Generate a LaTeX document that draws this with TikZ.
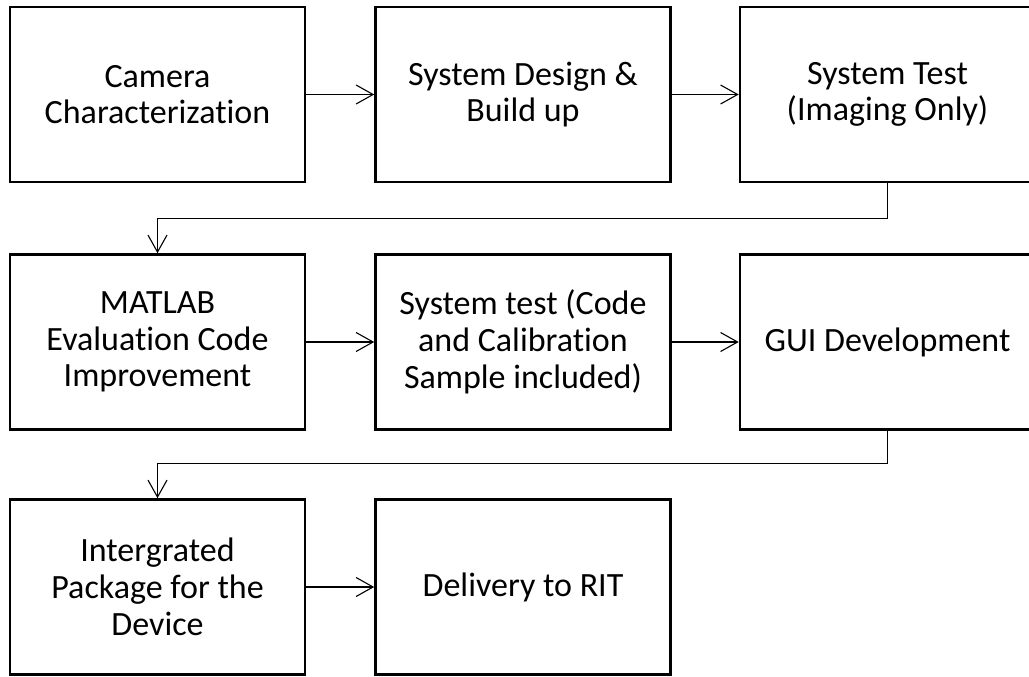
\documentclass[tikz,border=0pt]{standalone}
\usepackage{fontspec}
\setmainfont{Carlito}[Ligatures={NoCommon}]
\usetikzlibrary{arrows.meta}
\begin{document}
\begin{tikzpicture}[x=1pt,y=-1pt,
  box/.style={draw=black,line width=2.6pt,minimum width=295pt,minimum height=175pt,
    inner sep=0pt,align=center,font=\fontsize{34}{36.7}\selectfont},
  arr/.style={draw=black,line width=1.1pt,-{Straight Barb[length=17pt,width=19pt,line width=1.1pt]}}]
\useasboundingbox (0,0) rectangle (1029,677);
\node[box] (b1) at (157.5,94.5) {Camera\\Characterization};
\node[box] (b2) at (523,94.5) {System Design \&\\Build up};
\node[box] (b3) at (887.5,94.5) {System Test\\(Imaging Only)};
\node[box] (b4) at (157.5,342) {MATLAB\\Evaluation Code\\Improvement};
\node[box] (b5) at (523,342) {System test (Code\\and Calibration\\Sample included)};
\node[box] (b6) at (887.5,342) {GUI Development};
\node[box] (b7) at (157.5,587) {Intergrated\\Package for the\\Device};
\node[box] (b8) at (523,587) {Delivery to RIT};
\draw[arr] (b1.east) -- (b2.west);
\draw[arr] (b2.east) -- (b3.west);
\draw[arr] (b3.south) -- ++(0,35) -| (b4.north);
\draw[arr] (b4.east) -- (b5.west);
\draw[arr] (b5.east) -- (b6.west);
\draw[arr] (b6.south) -- ++(0,33) -| (b7.north);
\draw[arr] (b7.east) -- (b8.west);
\end{tikzpicture}
\end{document}
